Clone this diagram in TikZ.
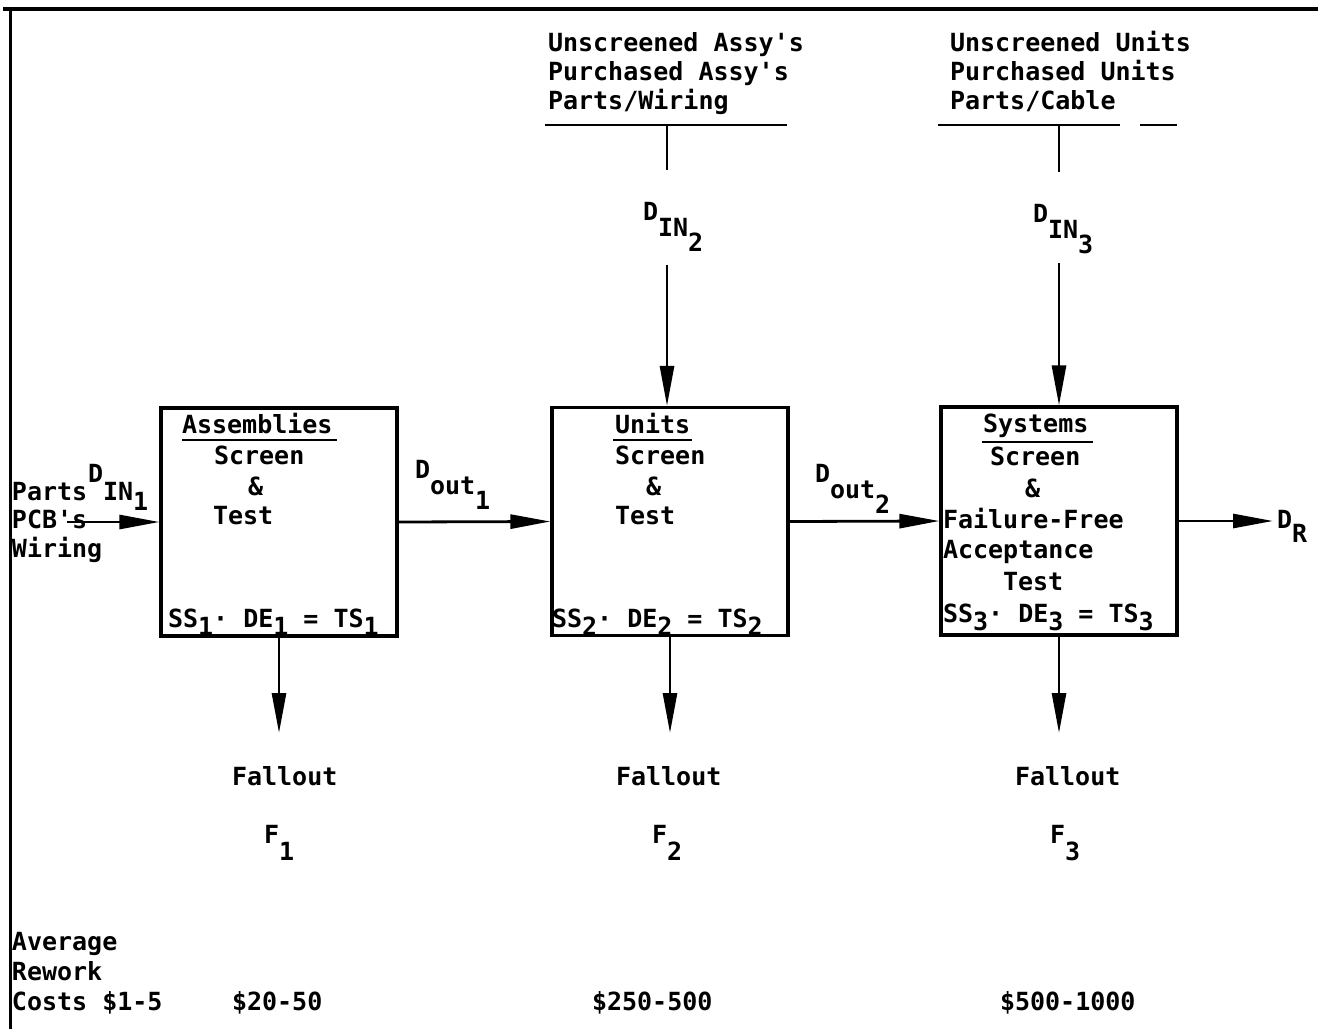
\documentclass[tikz,border=0pt]{standalone}
\usepackage{fontspec}
\setmainfont{DejaVu Sans Mono}
\usetikzlibrary{arrows.meta}
\newcommand\lo[1]{\raisebox{-8pt}{#1}}
\newcommand\Dlab[2]{D\raisebox{-16pt}{#1\raisebox{-15pt}{#2}}}
\newcommand\q{\textquotesingle}
\tikzset{
  txt/.style={anchor=base west, inner sep=0pt, outer sep=0pt, font=\fontsize{25}{30}\selectfont\bfseries},
  box/.style={draw, line width=3.2pt, minimum width=236pt, minimum height=228pt, inner sep=0pt},
  conn/.style={line width=2.8pt, -{Triangle[length=40pt,width=14pt]}},
  plain/.style={line width=2.8pt},
  uline/.style={line width=2.6pt},
}
\begin{document}
\begin{tikzpicture}[x=1pt,y=-1pt]
\useasboundingbox (0,0) rectangle (1318,1029);
% frame
\draw[line width=4pt] (3,9) -- (1318,9);
\draw[line width=3pt] (10,8) -- (10,1029);

% boxes
\node[box] (b1) at (279,522) {};
\node[box] (b2) at (670,521.5) {};
\node[box] (b3) at (1059,521) {};

% box 1 text
\node[txt] (b1t) at (182,433) {Assemblies};
\draw[uline] (182,440) -- (337,440);
\node[txt] (b1s) at (214,464) {Screen};
\node[txt] (b1a) at (248,495) {\&};
\node[txt] (b1x) at (213,524) {Test};
\node[txt] (b1e) at (168,627) {SS\lo{1}· DE\lo{1} = TS\lo{1}};

% box 2 text
\node[txt] (b2t) at (615,433) {Units};
\draw[uline] (613,440) -- (692,440);
\node[txt] (b2s) at (615,464) {Screen};
\node[txt] (b2a) at (646,495) {\&};
\node[txt] (b2x) at (615,524) {Test};
\node[txt] (b2e) at (552,627) {SS\lo{2}· DE\lo{2} = TS\lo{2}};

% box 3 text
\node[txt] (b3t) at (983,432) {Systems};
\draw[uline] (982,442) -- (1093,442);
\node[txt] (b3s) at (990,465) {Screen};
\node[txt] (b3a) at (1025,497) {\&};
\node[txt] (b3f) at (943,528) {Failure-Free};
\node[txt] (b3c) at (943,558) {Acceptance};
\node[txt] (b3x) at (1003,590) {Test};
\node[txt] (b3e) at (943,622) {SS\lo{3}· DE\lo{3} = TS\lo{3}};

% left input
\node[txt] (p1) at (12,500) {Parts};
\node[txt] (p2) at (12,528) {PCB\q s};
\node[txt] (p3) at (12,557) {Wiring};
\node[txt] (din1) at (88,482) {D\raisebox{-18pt}{IN\raisebox{-10pt}{1}}};
\coordinate (inp) at (67,0);
\draw[conn] (inp |- b1.west) -- (b1.west);

% top block 2
\node[txt] (t2a) at (548,51) {Unscreened Assy\q s};
\node[txt] (t2b) at (548,80) {Purchased Assy\q s};
\node[txt] (t2c) at (548,109) {Parts/Wiring};
\draw[uline] (545,125) -- (787,125);
\coordinate (v2s) at (667,126);
\coordinate (v2e) at (667,170);
\draw[plain] (v2s) -- (v2e);
\node[txt] (din2) at (643,220) {\Dlab{IN}{2}};
\coordinate (a2s) at (667,265);
\draw[conn] (a2s) -- (a2s |- b2.north);

% top block 3
\node[txt] (t3a) at (950,51) {Unscreened Units};
\node[txt] (t3b) at (950,80) {Purchased Units};
\node[txt] (t3c) at (950,109) {Parts/Cable};
\draw[uline] (938,125) -- (1120,125);
\draw[uline] (1140,125) -- (1177,125);
\coordinate (v3s) at (1059,126);
\coordinate (v3e) at (1059,172);
\draw[plain] (v3s) -- (v3e);
\node[txt] (din3) at (1033,222) {\Dlab{IN}{3}};
\coordinate (a3s) at (1059,263);
\draw[conn] (a3s) -- (a3s |- b3.north);

% outputs between boxes
\draw[conn] (b1.east) -- (b2.west);
\node[txt] (dout1) at (415,478) {\Dlab{out}{1}};
\draw[conn] (b2.east) -- (b3.west);
\node[txt] (dout2) at (815,482) {\Dlab{out}{2}};
\coordinate (dre) at (1273,521);
\draw[conn] (b3.east) -- (dre);
\node[txt] (dr) at (1277,528) {D\raisebox{-14pt}{R}};

% fallout arrows
\coordinate (f1e) at (279,733);
\coordinate (f2e) at (670,733);
\coordinate (f3e) at (1059,733);
\draw[conn] (b1.south) -- (f1e);
\draw[conn] (b2.south) -- (f2e);
\draw[conn] (b3.south) -- (f3e);
\node[txt] (fo1) at (232,785) {Fallout};
\node[txt] (fo2) at (616,785) {Fallout};
\node[txt] (fo3) at (1015,785) {Fallout};
\node[txt] (F1) at (264,843) {F\raisebox{-17pt}{1}};
\node[txt] (F2) at (652,843) {F\raisebox{-17pt}{2}};
\node[txt] (F3) at (1050,843) {F\raisebox{-17pt}{3}};

% bottom costs
\node[txt] (c1) at (12,950) {Average};
\node[txt] (c2) at (12,980) {Rework};
\node[txt] (c3) at (12,1010) {Costs \$1-5};
\node[txt] (c4) at (232,1010) {\$20-50};
\node[txt] (c5) at (592,1010) {\$250-500};
\node[txt] (c6) at (1000,1010) {\$500-1000};
\end{tikzpicture}
\end{document}
